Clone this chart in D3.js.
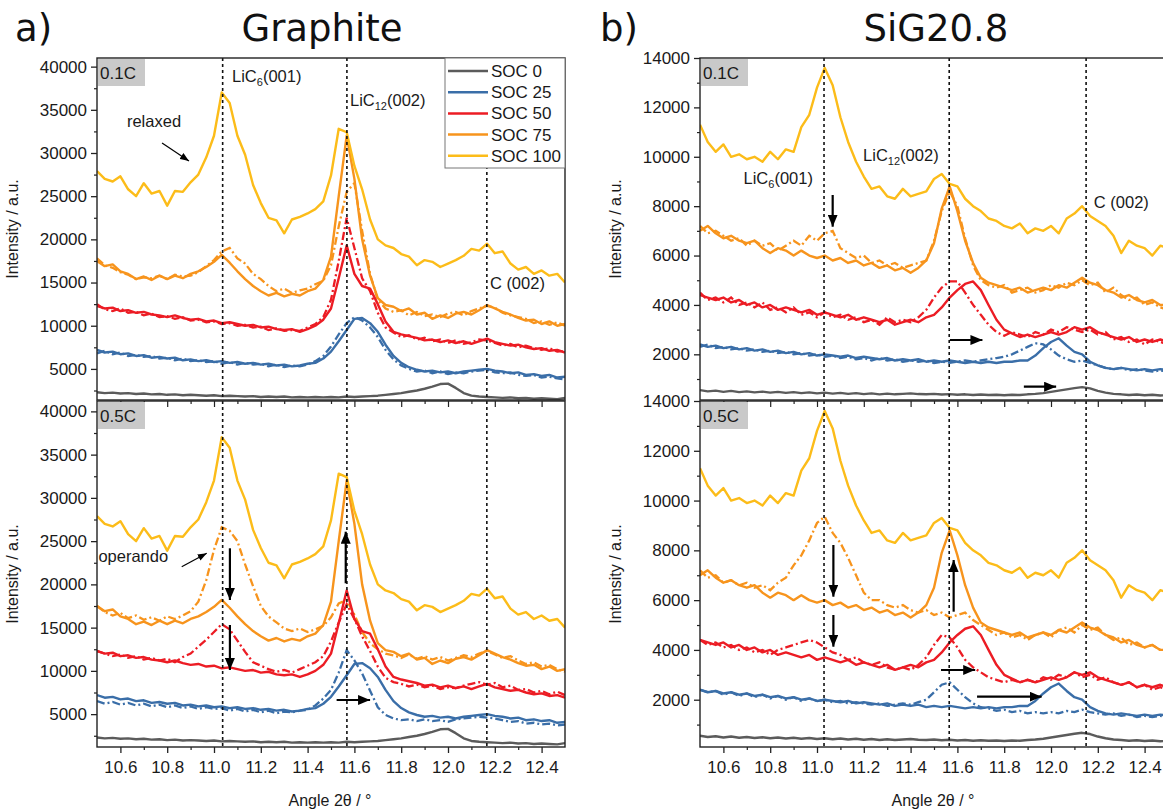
<!DOCTYPE html>
<html>
<head>
<meta charset="utf-8">
<script src="https://cdn.jsdelivr.net/npm/d3@7"></script>
<style>
  body { margin: 0; background: #fff; }
  svg { display: block; }
</style>
</head>
<body>
<svg id="chart" width="1163" height="810"></svg>
<script>
// diffraction angle grid (2theta, degrees)
const angle = [10.500, 10.533, 10.567, 10.600, 10.633, 10.667, 10.700, 10.733, 10.767, 10.800,
  10.833, 10.867, 10.900, 10.933, 10.967, 11.000, 11.033, 11.067, 11.100, 11.133,
  11.167, 11.200, 11.233, 11.267, 11.300, 11.333, 11.367, 11.400, 11.433, 11.467,
  11.500, 11.533, 11.567, 11.600, 11.633, 11.667, 11.700, 11.733, 11.767, 11.800,
  11.833, 11.867, 11.900, 11.933, 11.967, 12.000, 12.033, 12.067, 12.100, 12.133,
  12.167, 12.200, 12.233, 12.267, 12.300, 12.333, 12.367, 12.400, 12.433, 12.467, 12.500];

const socLabels = ["SOC 0", "SOC 25", "SOC 50", "SOC 75", "SOC 100"];
const socColors = ["#5b5b5b", "#3a6ea8", "#ec1c24", "#f7941d", "#fcbc19"];

// Graphite, relaxed (solid lines)
const grSoc0 = [2300, 2200, 2250, 2150, 2200, 2100, 2150, 2050, 2100, 2000, 2050, 1950, 2000, 1950, 1900, 1950, 1850, 1900, 1850, 1800, 1850, 1750, 1800, 1750, 1800, 1700, 1750, 1700, 1750, 1700, 1750, 1700, 1800, 1750, 1800, 1850, 1900, 2000, 2100, 2200, 2350, 2500, 2700, 2950, 3250, 3300, 2800, 2200, 1900, 1800, 1750, 1700, 1650, 1700, 1600, 1650, 1550, 1600, 1550, 1500, 1650];
const grSoc25 = [7200, 6900, 7000, 6700, 6800, 6500, 6600, 6300, 6400, 6200, 6300, 6000, 6100, 5900, 6000, 5800, 5900, 5700, 5800, 5600, 5700, 5500, 5600, 5400, 5500, 5300, 5400, 5600, 5700, 6200, 7000, 8200, 9500, 10800, 10900, 10300, 9300, 7800, 6500, 5700, 5200, 4900, 4700, 4800, 4600, 4700, 4500, 4700, 4800, 4900, 5000, 4800, 4700, 4500, 4600, 4300, 4400, 4200, 4300, 4000, 4100];
const grSoc50 = [12300, 12000, 12100, 11700, 11800, 11500, 11600, 11300, 11200, 11000, 11200, 10900, 10700, 10800, 10500, 10600, 10300, 10400, 10200, 10000, 10100, 9800, 9900, 9600, 9500, 9600, 9300, 9600, 10000, 10700, 12000, 15500, 19300, 16000, 14600, 14300, 12500, 10500, 9300, 9000, 8800, 8600, 8300, 8400, 8100, 8300, 8000, 8200, 7900, 8200, 8500, 8100, 7900, 7700, 7800, 7500, 7300, 7400, 7100, 7200, 6900];
const grSoc75 = [17500, 16900, 17100, 16300, 16000, 15400, 15700, 15300, 15800, 15400, 15800, 15500, 16000, 16300, 16800, 17400, 18200, 17300, 16300, 15400, 14600, 14000, 13500, 13800, 13400, 13700, 13500, 14000, 14300, 15300, 18000, 25000, 32000, 27000, 20000, 15800, 13200, 12400, 12200, 11700, 12000, 11300, 11500, 10800, 11200, 10900, 11400, 11600, 11300, 11800, 12400, 12000, 11600, 11300, 10900, 10600, 10700, 10200, 10500, 10000, 10200];
const grSoc100 = [27900, 27000, 26700, 27300, 25800, 25000, 26500, 25300, 25600, 23900, 25600, 25500, 26600, 27500, 29500, 32000, 37000, 35800, 32000, 29800, 26300, 24200, 22500, 22200, 20700, 22300, 22600, 23000, 23500, 24400, 27400, 32800, 32400, 28500, 25800, 22300, 20000, 19300, 19000, 18300, 18000, 17000, 17600, 17400, 16800, 17200, 17600, 18100, 18900, 18700, 19500, 18400, 18600, 17200, 16500, 16800, 16000, 16400, 15800, 16000, 15000];

// Graphite, operando 0.1C (dash-dot)
const grOp01Soc25 = [6800, 7100, 6700, 6900, 6500, 6600, 6400, 6500, 6200, 6300, 6000, 6200, 5900, 6000, 5800, 5900, 5600, 5800, 5500, 5700, 5500, 5600, 5300, 5500, 5200, 5400, 5300, 5500, 5900, 6500, 7600, 9000, 10300, 11000, 10600, 9800, 8700, 7200, 6100, 5400, 5000, 4700, 4800, 4500, 4700, 4400, 4600, 4500, 4700, 4800, 4900, 4600, 4500, 4600, 4300, 4200, 4300, 4000, 4100, 3900, 3800];
const grOp01Soc50 = [12500, 11900, 11700, 12000, 11500, 11600, 11200, 11400, 11000, 11100, 10800, 11000, 10600, 10700, 10400, 10500, 10200, 10300, 10000, 10100, 9800, 9900, 9500, 9700, 9400, 9500, 9400, 9800, 10200, 11000, 13000, 17500, 22500, 19000, 15500, 14000, 11500, 9800, 9200, 8700, 8900, 8400, 8600, 8200, 8400, 8000, 8300, 7900, 8100, 8400, 8300, 8000, 7700, 7900, 7500, 7700, 7400, 7200, 7400, 7000, 7100];
const grOp01Soc75 = [17800, 17000, 16700, 16200, 15900, 15400, 15600, 15500, 15800, 15400, 15900, 15700, 15800, 16200, 16900, 17600, 18600, 19000, 17800, 17200, 16000, 15400, 14600, 14000, 14300, 13800, 14100, 14300, 14800, 15200, 17000, 21500, 25500, 26500, 21000, 16000, 13000, 12000, 11600, 11800, 11200, 11600, 11100, 11300, 11000, 11400, 11600, 11200, 11700, 12000, 12300, 12100, 11500, 11200, 11000, 10800, 10300, 10500, 10100, 10400, 10000];

// Graphite, operando 0.5C (dash-dot)
const grOp05Soc25 = [6500, 6200, 6400, 6100, 6300, 6000, 6200, 5900, 6100, 5800, 6000, 5700, 5900, 5600, 5800, 5600, 5700, 5400, 5600, 5300, 5500, 5200, 5400, 5100, 5300, 5200, 5400, 5500, 6000, 6800, 7800, 9800, 12400, 11200, 9700, 7700, 5800, 4900, 4500, 4300, 4400, 4200, 4400, 4200, 4300, 4100, 4400, 4500, 4600, 4700, 4600, 4500, 4300, 4100, 4200, 3900, 4000, 3800, 3900, 3700, 3800];
const grOp05Soc50 = [12300, 12000, 11700, 11900, 11500, 11700, 11300, 11500, 11200, 11400, 11000, 11600, 12000, 12800, 13600, 14500, 15400, 14800, 13500, 12200, 11000, 10600, 10200, 9900, 10100, 9800, 10200, 10600, 11000, 11700, 13400, 15600, 17700, 16000, 14000, 12300, 10500, 9200, 8700, 8500, 8200, 8400, 8100, 8300, 7900, 8100, 8000, 8300, 8500, 8700, 8400, 8600, 8100, 8300, 7800, 7900, 7500, 7700, 7300, 7600, 7200];
const grOp05Soc75 = [17500, 16800, 16400, 16700, 16100, 16400, 15900, 16200, 15800, 16300, 16000, 16400, 16900, 18000, 20500, 24000, 26600, 26200, 25000, 22300, 19800, 17500, 16300, 15600, 14900, 14600, 14900, 14500, 14800, 15200, 16200, 17800, 18200, 16500, 14500, 13200, 12500, 12000, 11800, 11500, 11900, 11400, 11700, 11300, 11600, 11200, 11500, 11800, 11600, 12000, 12300, 11900, 11500, 11700, 11200, 10800, 11000, 10500, 10700, 10200, 9900];

// SiG20.8, relaxed (solid lines)
const siSoc0 = [550, 500, 530, 480, 520, 470, 500, 460, 490, 450, 480, 440, 470, 430, 460, 420, 450, 410, 440, 400, 430, 390, 420, 380, 410, 380, 400, 420, 390, 380, 400, 370, 390, 360, 380, 350, 370, 350, 360, 340, 360, 350, 380, 400, 430, 480, 530, 580, 630, 670, 620, 520, 450, 400, 380, 350, 370, 340, 360, 330, 350];
const siSoc25 = [2400, 2300, 2350, 2250, 2300, 2200, 2250, 2150, 2200, 2100, 2150, 2050, 2100, 2000, 2050, 1950, 2000, 1950, 1900, 1950, 1850, 1900, 1850, 1800, 1850, 1750, 1800, 1750, 1800, 1700, 1750, 1700, 1750, 1700, 1650, 1700, 1650, 1700, 1650, 1700, 1700, 1750, 1750, 1950, 2250, 2500, 2650, 2350, 2100, 2000, 1700, 1550, 1450, 1400, 1450, 1400, 1350, 1400, 1350, 1400, 1350];
const siSoc50 = [4400, 4300, 4200, 4300, 4100, 4200, 4000, 4100, 3900, 4000, 3800, 3900, 3800, 3700, 3800, 3600, 3700, 3600, 3500, 3600, 3400, 3500, 3400, 3300, 3400, 3200, 3300, 3400, 3300, 3500, 3600, 3900, 4300, 4600, 4850, 4950, 4600, 4000, 3400, 3000, 2850, 2700, 2800, 2700, 2800, 2900, 2800, 2900, 3100, 3000, 3100, 2900, 2800, 2700, 2600, 2700, 2500, 2600, 2500, 2600, 2500];
const siSoc75 = [7000, 7200, 6900, 6700, 6800, 6600, 6500, 6600, 6300, 6100, 6300, 6200, 6000, 6200, 6000, 5900, 6000, 5800, 5900, 5700, 5800, 5600, 5700, 5500, 5600, 5400, 5500, 5300, 5500, 5800, 6500, 7900, 8800, 7800, 6600, 5700, 5100, 4900, 4800, 4700, 4600, 4700, 4500, 4600, 4700, 4600, 4800, 4700, 4900, 5100, 4900, 4800, 4600, 4500, 4300, 4400, 4200, 4100, 4200, 4000, 4000];
const siSoc100 = [11300, 10600, 10200, 10500, 10000, 10100, 9900, 10000, 9800, 10200, 9900, 10300, 10200, 11200, 11700, 12800, 13600, 12900, 11600, 10600, 9800, 9200, 8700, 8800, 8400, 8300, 8700, 8400, 8500, 8600, 9100, 9300, 8900, 8800, 8300, 8000, 7800, 7500, 7400, 7200, 7100, 7300, 6900, 7100, 7000, 7200, 6900, 7500, 7700, 8000, 7600, 7400, 7200, 6800, 6100, 6600, 6400, 6300, 6000, 6400, 6300];

// SiG20.8, operando 0.1C (dash-dot)
const siOp01Soc25 = [2300, 2400, 2250, 2300, 2200, 2250, 2150, 2200, 2100, 2150, 2050, 2100, 2000, 2050, 1950, 2000, 1900, 1950, 1850, 1900, 1800, 1850, 1750, 1850, 1750, 1800, 1700, 1750, 1700, 1750, 1650, 1700, 1650, 1700, 1750, 1700, 1750, 1800, 1850, 1900, 2000, 2150, 2300, 2450, 2400, 2200, 1950, 1800, 1700, 1750, 1650, 1550, 1450, 1400, 1450, 1350, 1400, 1350, 1300, 1350, 1300];
const siOp01Soc50 = [4500, 4200, 4300, 4100, 4300, 4000, 4100, 3900, 4100, 3800, 3900, 3700, 3900, 3600, 3700, 3500, 3700, 3500, 3600, 3400, 3500, 3300, 3400, 3200, 3500, 3300, 3400, 3300, 3500, 3800, 4300, 4700, 4950, 4950, 4500, 4000, 3600, 3200, 2900, 2750, 2900, 2800, 2700, 2900, 2800, 3000, 2900, 3100, 3000, 2900, 3000, 2800, 2900, 2600, 2700, 2500, 2600, 2400, 2600, 2500, 2400];
const siOp01Soc75 = [7200, 6900, 7000, 6800, 6600, 6700, 6400, 6600, 6400, 6500, 6200, 6400, 6600, 6400, 6800, 6600, 6900, 7000, 6300, 6100, 5900, 6000, 5700, 5800, 5600, 5700, 5500, 5600, 5700, 5800, 6600, 7800, 8600, 8000, 6700, 5600, 5000, 4800, 4700, 4800, 4500, 4600, 4700, 4500, 4600, 4800, 4700, 4900, 4800, 5000, 4800, 4900, 4500, 4700, 4400, 4200, 4300, 4000, 4100, 3900, 3800];

// SiG20.8, operando 0.5C (dash-dot)
const siOp05Soc25 = [2400, 2300, 2350, 2200, 2300, 2150, 2250, 2100, 2200, 2050, 2150, 2000, 2100, 1950, 2050, 1950, 2000, 1900, 1950, 1850, 1900, 1850, 1800, 1850, 1750, 1800, 1850, 1800, 1900, 2000, 2300, 2600, 2700, 2400, 2100, 1850, 1700, 1650, 1550, 1600, 1500, 1550, 1450, 1500, 1450, 1500, 1450, 1550, 1500, 1600, 1500, 1450, 1400, 1450, 1350, 1400, 1300, 1350, 1300, 1350, 1300];
const siOp05Soc50 = [4400, 4200, 4300, 4100, 4200, 4000, 4100, 3900, 4000, 3800, 4000, 4100, 4200, 4300, 4400, 4300, 4100, 3900, 3800, 3600, 3700, 3500, 3400, 3500, 3300, 3200, 3300, 3200, 3400, 3700, 4200, 4600, 4500, 4100, 3600, 3300, 3100, 2900, 2800, 2700, 2800, 2700, 2800, 2700, 2900, 2800, 3000, 2900, 3100, 2900, 3000, 2800, 2900, 2700, 2600, 2700, 2500, 2600, 2400, 2500, 2400];
const siOp05Soc75 = [7200, 6900, 7000, 6700, 6800, 6600, 6700, 6500, 6600, 6400, 6700, 6900, 7400, 7800, 8400, 9100, 9350, 8700, 8300, 7700, 7000, 6300, 6000, 6000, 5800, 5700, 5800, 5600, 5500, 5600, 5400, 5500, 5300, 5400, 5500, 5200, 5000, 4800, 4600, 4700, 4500, 4600, 4400, 4600, 4700, 4500, 4800, 4900, 4700, 5000, 4800, 4900, 4600, 4400, 4500, 4200, 4300, 4100, 4200, 4000, 3900];

// reflection positions (dashed guides)
const graphitePeaks = [11.037, 11.568, 12.166];
const sigPeaks = [11.03, 11.565, 12.15];

const xMajor = [10.6, 10.8, 11.0, 11.2, 11.4, 11.6, 11.8, 12.0, 12.2, 12.4];
const xMinor = [10.7, 10.9, 11.1, 11.3, 11.5, 11.7, 11.9, 12.1, 12.3];

// text notes: [panel, angle, intensity, main, sub, rest]
const notes = [
  [0, 11.077, 38220, "LiC", "6", "(001)"],
  [0, 11.581, 35440, "LiC", "12", "(002)"],
  [0, 10.628, 33010, "relaxed", "", ""],
  [0, 12.179, 14250, "C (002)", "", ""],
  [1, 10.506, 22590, "operando", "", ""],
  [2, 10.686, 8897, "LiC", "6", "(001)"],
  [2, 11.197, 9829, "LiC", "12", "(002)"],
  [2, 12.183, 7945, "C (002)", "", ""]
];
// arrows: [panel, a1, v1, a2, v2, heavy]
const arrows = [
  [0, 10.778, 31157, 10.893, 29073, false],
  [1, 10.862, 22045, 10.969, 23594, false],
  [1, 11.068, 24172, 11.068, 18196, true],
  [1, 11.068, 15306, 11.068, 10104, true],
  [1, 11.563, 20126, 11.563, 26091, true],
  [1, 11.524, 6636, 11.667, 6636, true],
  [2, 11.067, 8452, 11.067, 7168, true],
  [2, 11.568, 2579, 11.707, 2579, true],
  [2, 11.884, 688, 12.022, 688, true],
  [3, 11.07, 8216, 11.07, 6139, true],
  [3, 11.07, 5404, 11.07, 4130, true],
  [3, 11.584, 5536, 11.584, 7613, true],
  [3, 11.53, 3194, 11.676, 3194, true],
  [3, 11.684, 2122, 11.96, 2122, true]
];

const panels = [
  { left: 97, top: 58, bottom: 400, yDomain: [1400, 41000], yStep: 5000, rate: "0.1C",
    solid: [grSoc0, grSoc25, grSoc50, grSoc75, grSoc100], dashed: [grOp01Soc25, grOp01Soc50, grOp01Soc75],
    peaks: graphitePeaks, xLabels: false, legend: true },
  { left: 97, top: 401, bottom: 747, yDomain: [1200, 41200], yStep: 5000, rate: "0.5C",
    solid: [grSoc0, grSoc25, grSoc50, grSoc75, grSoc100], dashed: [grOp05Soc25, grOp05Soc50, grOp05Soc75],
    peaks: graphitePeaks, xLabels: true },
  { left: 700, top: 58, bottom: 400, yDomain: [150, 14000], yStep: 2000, rate: "0.1C",
    solid: [siSoc0, siSoc25, siSoc50, siSoc75, siSoc100], dashed: [siOp01Soc25, siOp01Soc50, siOp01Soc75],
    peaks: sigPeaks, xLabels: false },
  { left: 700, top: 401, bottom: 747, yDomain: [100, 14000], yStep: 2000, rate: "0.5C",
    solid: [siSoc0, siSoc25, siSoc50, siSoc75, siSoc100], dashed: [siOp05Soc25, siOp05Soc50, siOp05Soc75],
    peaks: sigPeaks, xLabels: true }
];

const svg = d3.select("#chart");
const tickFont = "'Liberation Sans', Arial, sans-serif";
const plotW = 468;

const defs = svg.append("defs");
[["head-big", 12, 10], ["head-small", 9, 7]].forEach(([id, len, wid]) => {
  defs.append("marker")
    .attr("id", id)
    .attr("markerUnits", "userSpaceOnUse")
    .attr("markerWidth", len).attr("markerHeight", wid)
    .attr("viewBox", `0 0 ${len} ${wid}`)
    .attr("refX", len).attr("refY", wid / 2)
    .attr("orient", "auto")
    .append("path")
    .attr("d", `M0,0L${len},${wid / 2}L0,${wid}Z`)
    .attr("fill", "#000");
});

const scales = panels.map(p => {
  const x = d3.scaleLinear().domain([10.5, 12.5]).range([p.left, p.left + plotW]);
  const y = d3.scaleLinear().domain(p.yDomain).range([p.bottom, p.top]);
  return { x, y };
});

panels.forEach((p, k) => {
  const { x, y } = scales[k];
  const g = svg.append("g");

  defs.append("clipPath").attr("id", "clip" + k)
    .append("rect")
    .attr("x", p.left).attr("y", p.top)
    .attr("width", plotW).attr("height", p.bottom - p.top);

  const plot = g.append("g").attr("clip-path", `url(#clip${k})`);
  const line = d3.line().x((d, i) => x(angle[i])).y(d => y(d));

  // operando curves (dash-dot), SOC 25/50/75
  p.dashed.forEach((vals, j) => {
    plot.append("path")
      .attr("d", line(vals))
      .attr("fill", "none")
      .attr("stroke", socColors[j + 1])
      .attr("stroke-width", 2.3)
      .attr("stroke-dasharray", "8,3,2,3");
  });
  // relaxed curves (solid)
  p.solid.forEach((vals, j) => {
    plot.append("path")
      .attr("d", line(vals))
      .attr("fill", "none")
      .attr("stroke", socColors[j])
      .attr("stroke-width", 2.4)
      .attr("stroke-linejoin", "round");
  });

  // reflection guides
  plot.selectAll(".guide")
    .data(p.peaks)
    .enter().append("line")
    .attr("x1", d => x(d)).attr("x2", d => x(d))
    .attr("y1", p.top).attr("y2", p.bottom)
    .attr("stroke", "#111")
    .attr("stroke-width", 1.6)
    .attr("stroke-dasharray", "3,3");

  // frame
  g.append("rect")
    .attr("x", p.left).attr("y", p.top)
    .attr("width", plotW).attr("height", p.bottom - p.top)
    .attr("fill", "none")
    .attr("stroke", "#222")
    .attr("stroke-width", 1.4);

  // y axis
  const yMajor = d3.range(p.yStep, p.yDomain[1] + 1, p.yStep);
  const yMinor = d3.range(p.yStep / 2, p.yDomain[1] + 1, p.yStep).filter(v => v > p.yDomain[0]);
  const yAx = g.append("g").attr("transform", `translate(${p.left},0)`)
    .call(d3.axisLeft(y).tickValues(yMajor).tickSize(6).tickPadding(4).tickFormat(d3.format("d")));
  yAx.select(".domain").remove();
  yAx.selectAll("text").style("font-family", tickFont).style("font-size", "17px").attr("fill", "#1a1a1a");
  yAx.selectAll("line").attr("stroke", "#222").attr("stroke-width", 1.3);
  const yMin = g.append("g").attr("transform", `translate(${p.left},0)`)
    .call(d3.axisLeft(y).tickValues(yMinor).tickSize(3).tickFormat(""));
  yMin.select(".domain").remove();
  yMin.selectAll("line").attr("stroke", "#222").attr("stroke-width", 1.2);

  g.append("text")
    .attr("transform", `translate(${p.left - 79},${(p.top + p.bottom) / 2}) rotate(-90)`)
    .attr("text-anchor", "middle")
    .style("font-family", tickFont).style("font-size", "16px")
    .attr("fill", "#1a1a1a")
    .text("Intensity / a.u.");

  if (p.xLabels) {
    const xAx = g.append("g").attr("transform", `translate(0,${p.bottom})`)
      .call(d3.axisBottom(x).tickValues(xMajor).tickSize(6).tickPadding(8).tickFormat(d3.format(".1f")));
    xAx.select(".domain").remove();
    xAx.selectAll("text").style("font-family", tickFont).style("font-size", "17px").attr("fill", "#1a1a1a");
    xAx.selectAll("line").attr("stroke", "#222").attr("stroke-width", 1.3);
    const xMin = g.append("g").attr("transform", `translate(0,${p.bottom})`)
      .call(d3.axisBottom(x).tickValues(xMinor).tickSize(3).tickFormat(""));
    xMin.select(".domain").remove();
    xMin.selectAll("line").attr("stroke", "#222").attr("stroke-width", 1.2);

    // mirrored ticks on the shared top edge
    const tTop = g.append("g").attr("transform", `translate(0,${p.top})`)
      .call(d3.axisBottom(x).tickValues(xMajor).tickSize(6).tickFormat(""));
    tTop.select(".domain").remove();
    tTop.selectAll("line").attr("stroke", "#222").attr("stroke-width", 1.2);
    const tTopMin = g.append("g").attr("transform", `translate(0,${p.top})`)
      .call(d3.axisBottom(x).tickValues(xMinor).tickSize(3).tickFormat(""));
    tTopMin.select(".domain").remove();
    tTopMin.selectAll("line").attr("stroke", "#222").attr("stroke-width", 1.2);

    g.append("text")
      .attr("x", p.left + plotW / 2 - 1).attr("y", 806)
      .attr("text-anchor", "middle")
      .style("font-family", tickFont).style("font-size", "16px")
      .attr("fill", "#1a1a1a")
      .text("Angle 2θ / °");
  }

  // C-rate tag
  g.append("rect")
    .attr("x", p.left + 1).attr("y", p.top + 1)
    .attr("width", 47).attr("height", 27)
    .attr("fill", "#c9c9c9");
  g.append("text")
    .attr("x", p.left + 3).attr("y", p.top + 21)
    .style("font-family", tickFont).style("font-size", "17px")
    .attr("fill", "#1a1a1a")
    .text(p.rate);

  if (p.legend) {
    const lx = p.left + plotW - 120, ly = p.top;
    g.append("rect")
      .attr("x", lx).attr("y", ly)
      .attr("width", 120).attr("height", 110)
      .attr("fill", "#fff")
      .attr("stroke", "#777").attr("stroke-width", 1);
    socLabels.forEach((lab, j) => {
      const yy = ly + 13 + j * 21.2;
      g.append("line")
        .attr("x1", lx + 3).attr("x2", lx + 43)
        .attr("y1", yy).attr("y2", yy)
        .attr("stroke", socColors[j]).attr("stroke-width", 2.5);
      g.append("text")
        .attr("x", lx + 46).attr("y", yy + 6)
        .style("font-family", tickFont).style("font-size", "17px")
        .attr("fill", "#1a1a1a")
        .text(lab);
    });
  }
});

// annotations
notes.forEach(([k, a, v, main, sub, rest]) => {
  const { x, y } = scales[k];
  const t = svg.append("text")
    .attr("x", x(a)).attr("y", y(v))
    .style("font-family", tickFont).style("font-size", "16.5px")
    .attr("fill", "#1a1a1a");
  t.append("tspan").text(main);
  if (sub) {
    t.append("tspan").attr("dy", 4).style("font-size", "11px").text(sub);
    t.append("tspan").attr("dy", -4).text(rest);
  }
});

arrows.forEach(([k, a1, v1, a2, v2, heavy]) => {
  const { x, y } = scales[k];
  svg.append("line")
    .attr("x1", x(a1)).attr("y1", y(v1))
    .attr("x2", x(a2)).attr("y2", y(v2))
    .attr("stroke", "#000")
    .attr("stroke-width", heavy ? 2.2 : 1.2)
    .attr("marker-end", heavy ? "url(#head-big)" : "url(#head-small)");
});

// panel titles
const titleFont = "'DejaVu Sans', Verdana, sans-serif";
[["a)", 15, "start"], ["Graphite", 322, "middle"], ["b)", 600, "start"], ["SiG20.8", 936, "middle"]]
  .forEach(([txt, xx, anchor]) => {
    svg.append("text")
      .attr("x", xx).attr("y", 41)
      .attr("text-anchor", anchor)
      .style("font-family", titleFont).style("font-size", "37px")
      .attr("fill", "#111")
      .text(txt);
  });
</script>
</body>
</html>
